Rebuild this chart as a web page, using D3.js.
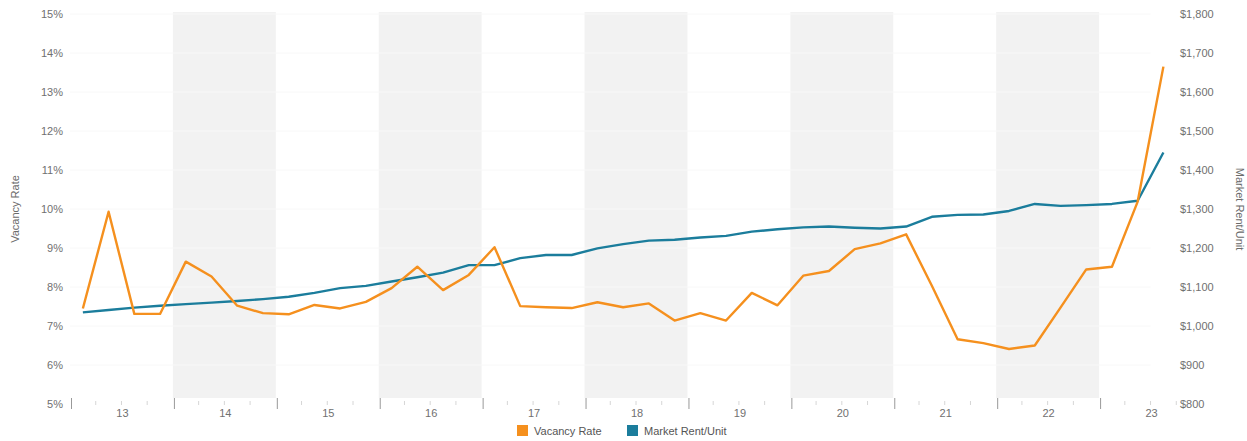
<!DOCTYPE html>
<html>
<head>
<meta charset="utf-8">
<script src="https://cdn.jsdelivr.net/npm/d3@7"></script>
<style>
  html, body { margin: 0; padding: 0; background: #fff; }
  svg { display: block; font-family: "Liberation Sans", Arial, Helvetica, sans-serif; }
  .tick text { fill: #707070; font-size: 11px; }
</style>
</head>
<body>
<svg id="chart" width="1247" height="441"></svg>
<script>
// Quarterly series, 2013 Q1 – 2023 Q3
const yearLabels = ["13", "14", "15", "16", "17", "18", "19", "20", "21", "22", "23"];
const firstYear = 2013;

const vacancyRate = [
  7.45, 9.93, 7.31, 7.31, 8.65, 8.27, 7.52, 7.33, 7.30, 7.54,
  7.45, 7.62, 7.97, 8.52, 7.92, 8.31, 9.02, 7.51, 7.48, 7.46,
  7.61, 7.48, 7.58, 7.14, 7.33, 7.14, 7.85, 7.53, 8.29, 8.41,
  8.97, 9.12, 9.35, 8.03, 6.66, 6.56, 6.41, 6.50, 7.47, 8.45,
  8.52, 10.19, 13.65
];

const marketRent = [
  1035, 1041, 1047, 1052, 1056, 1060, 1064, 1069, 1075, 1085,
  1097, 1103, 1114, 1125, 1137, 1156, 1156, 1174, 1182, 1182,
  1199, 1210, 1219, 1221, 1227, 1231, 1242, 1248, 1253, 1255,
  1252, 1250, 1255, 1280, 1285, 1286, 1295, 1313, 1308, 1310,
  1313, 1321, 1445
];

const vacancyTicks = [5, 6, 7, 8, 9, 10, 11, 12, 13, 14, 15];
const rentTicks = [800, 900, 1000, 1100, 1200, 1300, 1400, 1500, 1600, 1700, 1800];

const seriesNames = ["Vacancy Rate", "Market Rent/Unit"];
const colors = { vacancy: "#f5901e", rent: "#1b7d9c" };

// Each quarter sits at the middle of its quarter on a continuous year axis
const periods = vacancyRate.map((_, i) => firstYear + Math.floor(i / 4) + ((i % 4) + 0.5) / 4);

const svg = d3.select("#chart");
const plot = { left: 70, right: 1202, top: 14, bottom: 404 };

const x = d3.scaleLinear().domain([firstYear, firstYear + yearLabels.length]).range([plot.left, plot.right]);
const yL = d3.scaleLinear().domain([5, 15]).range([plot.bottom, plot.top]);
const yR = d3.scaleLinear().domain([800, 1800]).range([plot.bottom, plot.top]);

// Alternating year bands
const years = yearLabels.map((_, i) => firstYear + i);
svg.append("g")
  .selectAll("rect")
  .data(years.filter((_, i) => i % 2 === 1))
  .join("rect")
  .attr("x", d => x(d))
  .attr("y", plot.top - 2)
  .attr("width", d => x(d + 1) - x(d))
  .attr("height", plot.bottom - plot.top - 4)
  .attr("fill", "#f2f2f2");

// Faint horizontal grid
svg.append("g")
  .selectAll("line")
  .data(vacancyTicks.slice(1))
  .join("line")
  .attr("x1", plot.left)
  .attr("x2", x(firstYear + 10.5))
  .attr("y1", d => yL(d))
  .attr("y2", d => yL(d))
  .attr("stroke", "#f8f8f8")
  .attr("stroke-width", 1);

// Left axis: vacancy rate
const leftAxis = svg.append("g")
  .attr("transform", `translate(${plot.left - 6},0)`)
  .call(d3.axisLeft(yL).tickValues(vacancyTicks).tickFormat(d => d + "%").tickSize(0).tickPadding(1));
leftAxis.select(".domain").remove();

// Right axis: market rent
const rightAxis = svg.append("g")
  .attr("transform", `translate(1176,0)`)
  .call(d3.axisRight(yR).tickValues(rentTicks).tickFormat(d => "$" + d3.format(",")(d)).tickSize(0).tickPadding(4));
rightAxis.select(".domain").remove();

// Bottom axis: year labels centred in each year, ticks at year boundaries
const xAxis = svg.append("g").attr("transform", `translate(0,${plot.bottom})`);
xAxis.selectAll("line.major")
  .data(years)
  .join("line")
  .attr("class", "major")
  .attr("x1", d => x(d) + 1.5).attr("x2", d => x(d) + 1.5)
  .attr("y1", -6).attr("y2", 5)
  .attr("stroke", "#999").attr("stroke-width", 1);
const minor = [];
years.forEach(yr => { [0.25, 0.5, 0.75].forEach(f => minor.push(yr + f)); });
xAxis.selectAll("line.minor")
  .data(minor)
  .join("line")
  .attr("class", "minor")
  .attr("x1", d => x(d)).attr("x2", d => x(d))
  .attr("y1", -3).attr("y2", 1)
  .attr("stroke", "#d6d6d6").attr("stroke-width", 1);
xAxis.selectAll("text")
  .data(yearLabels)
  .join("text")
  .attr("x", (d, i) => x(firstYear + i + 0.5) + 1)
  .attr("y", 13)
  .attr("text-anchor", "middle")
  .attr("fill", "#707070")
  .attr("font-size", 11)
  .text(d => d);

// Axis titles
svg.append("text")
  .attr("transform", `translate(19,209) rotate(-90)`)
  .attr("text-anchor", "middle")
  .attr("fill", "#6b6b6b").attr("font-size", 11)
  .text("Vacancy Rate");
svg.append("text")
  .attr("transform", `translate(1236,209) rotate(90)`)
  .attr("text-anchor", "middle")
  .attr("fill", "#6b6b6b").attr("font-size", 11)
  .text("Market Rent/Unit");

// Lines
const rentLine = d3.line().x((d, i) => x(periods[i])).y(d => yR(d));
const vacLine = d3.line().x((d, i) => x(periods[i])).y(d => yL(d));

svg.append("path")
  .datum(marketRent)
  .attr("d", rentLine)
  .attr("fill", "none")
  .attr("stroke", colors.rent)
  .attr("stroke-width", 2.4)
  .attr("stroke-linejoin", "round");

svg.append("path")
  .datum(vacancyRate)
  .attr("d", vacLine)
  .attr("fill", "none")
  .attr("stroke", colors.vacancy)
  .attr("stroke-width", 2.4)
  .attr("stroke-linejoin", "round");

// Legend
const legend = svg.append("g").attr("transform", "translate(517,425)");
const legendItems = [
  { name: seriesNames[0], color: colors.vacancy, x: 0 },
  { name: seriesNames[1], color: colors.rent, x: 110 }
];
const li = legend.selectAll("g").data(legendItems).join("g")
  .attr("transform", d => `translate(${d.x},0)`);
li.append("rect").attr("width", 11).attr("height", 11).attr("fill", d => d.color);
li.append("text")
  .attr("x", 17).attr("y", 9.5)
  .attr("fill", "#555").attr("font-size", 11)
  .text(d => d.name);
</script>
</body>
</html>
